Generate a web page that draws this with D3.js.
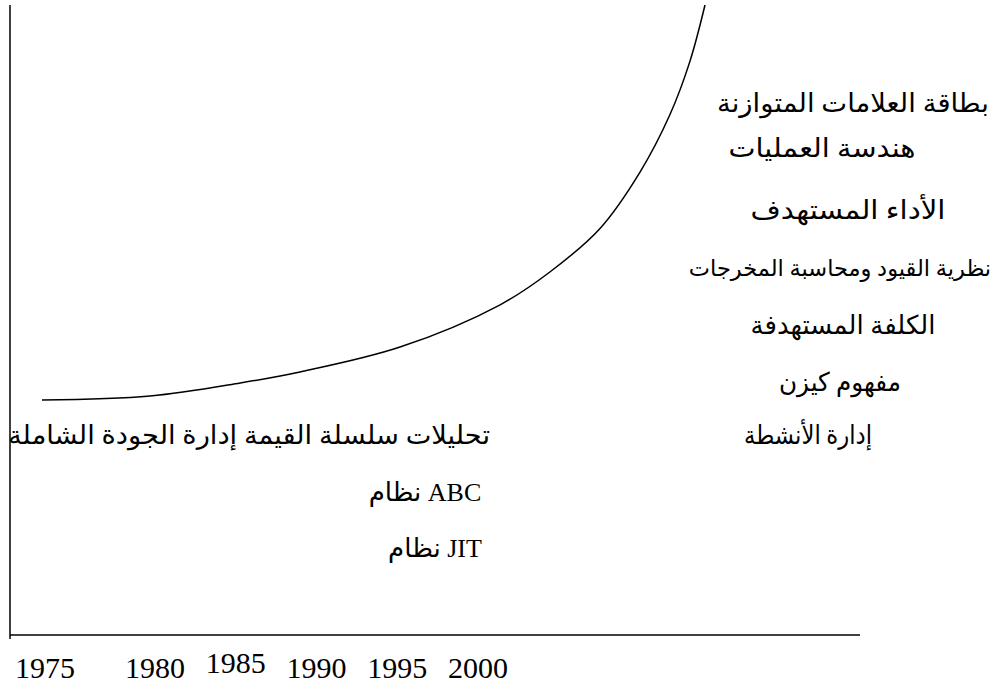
<!DOCTYPE html>
<html>
<head>
<meta charset="utf-8">
<script src="https://cdn.jsdelivr.net/npm/d3@7"></script>
<style>
  body { margin: 0; background: #fff; }
  svg { display: block; }
  text { font-family: "Liberation Serif", "DejaVu Sans", serif; fill: #000; }
</style>
</head>
<body>
<svg id="chart" width="994" height="690"></svg>
<script>
const years = [1975, 1980, 1985, 1990, 1995, 2000];

// growth curve, abstract units (0..100 on both axes)
const curveT = [0, 16.3, 29.9, 38.9, 54, 69.1, 76.6, 84.2, 90.2, 94.7, 97.7, 100];
const curveV = [0, 1, 4.3, 7.1, 13.4, 24.1, 32.4, 43.5, 57.7, 72.2, 85.6, 100];

// techniques shown on the right of the curve (top to bottom)
const lateTools = [
    "بطاقة العلامات المتوازنة",
    "هندسة العمليات",
    "الأداء المستهدف",
    "نظرية القيود ومحاسبة المخرجات",
    "الكلفة المستهدفة",
    "مفهوم كيزن",
    "إدارة الأنشطة"
];
// techniques under the curve
const earlyTools = [
    "تحليلات سلسلة القيمة إدارة الجودة الشاملة",
    "نظام ABC",
    "نظام JIT"
];

const svg = d3.select('#chart');

// layout
const axisX = 10, axisTop = 5, axisY = 635, axisRight = 860;
const lateX = [853, 822, 848, 840, 843, 840, 808];
const lateY = [103, 148, 210, 268, 325, 382, 435];
const lateW = [272, 187, 195, null, 185, 122, 128];
const lateSize = [26, 26, 26, 22.5, 26, 26, 26];
const earlyX = [249, 425, 435];
const earlyY = [435, 492, 548];
const earlyW = [482, null, null];
const earlySize = [26, 26, 26];

// axes lines
svg.append('line')
    .attr('x1', axisX).attr('x2', axisX)
    .attr('y1', axisTop).attr('y2', axisY + 4)
    .attr('stroke', '#000').attr('stroke-width', 1.5);
svg.append('line')
    .attr('x1', axisX).attr('x2', axisRight)
    .attr('y1', axisY).attr('y2', axisY)
    .attr('stroke', '#000').attr('stroke-width', 1.5);

// year labels (uneven spacing in the original)
const yearX = d3.scaleLinear()
    .domain([1975, 1980, 2000])
    .range([45, 155, 478]);

svg.append('g')
    .selectAll('text')
    .data(years)
    .join('text')
    .attr('x', d => yearX(d))
    .attr('y', d => d === 1985 ? 673 : 678)
    .attr('text-anchor', 'middle')
    .style('font-size', '30px')
    .text(d => d);

// curve
const x = d3.scaleLinear().domain([0, 100]).range([42, 705]);
const y = d3.scaleLinear().domain([0, 100]).range([400, 5]);

const line = d3.line()
    .x(d => x(d[0]))
    .y(d => y(d[1]))
    .curve(d3.curveCatmullRom.alpha(0.5));

svg.append('path')
    .datum(d3.zip(curveT, curveV))
    .attr('d', line)
    .attr('fill', 'none')
    .attr('stroke', '#000')
    .attr('stroke-width', 1.5);

// labels
const addLabels = (list, xs, ys, ws, sizes) => {
    svg.append('g')
        .selectAll('text')
        .data(list)
        .join('text')
        .attr('x', (d, i) => xs[i])
        .attr('y', (d, i) => ys[i])
        .attr('dy', '0.35em')
        .attr('text-anchor', 'middle')
        .style('font-size', (d, i) => sizes[i] + 'px')
        .each(function(d, i) {
            if (ws[i]) {
                d3.select(this)
                    .attr('textLength', ws[i])
                    .attr('lengthAdjust', 'spacingAndGlyphs');
            }
        })
        .text(d => d);
};

addLabels(lateTools, lateX, lateY, lateW, lateSize);
addLabels(earlyTools, earlyX, earlyY, earlyW, earlySize);
</script>
</body>
</html>
